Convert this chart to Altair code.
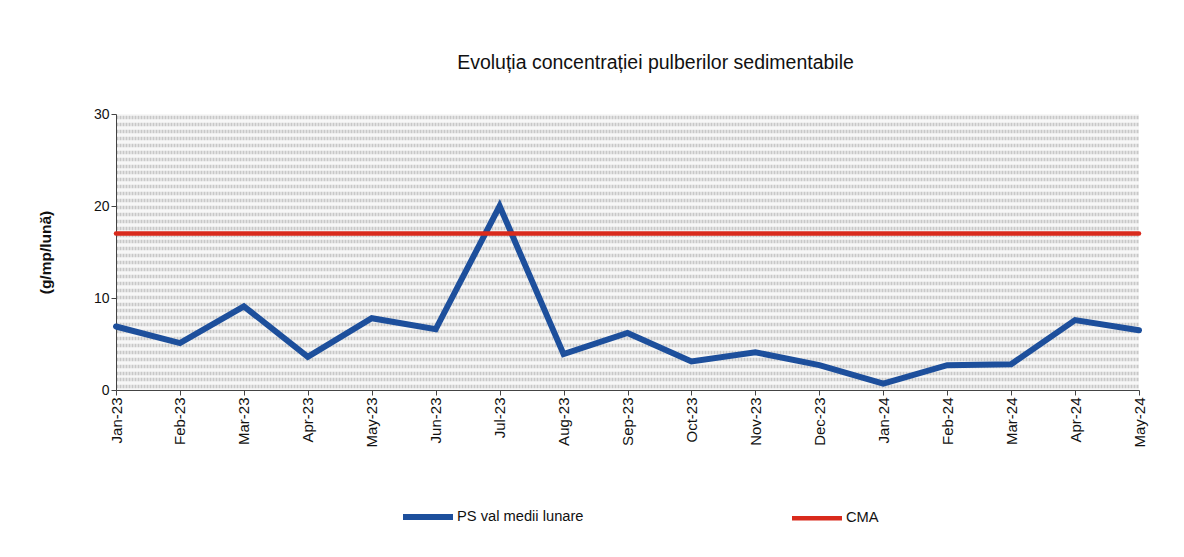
import altair as alt
import numpy as np
import pandas as pd

months = ["Jan-23", "Feb-23", "Mar-23", "Apr-23", "May-23", "Jun-23", "Jul-23", "Aug-23",
          "Sep-23", "Oct-23", "Nov-23", "Dec-23", "Jan-24", "Feb-24", "Mar-24", "Apr-24", "May-24"]
ps_values = [6.9, 5.1, 9.1, 3.6, 7.8, 6.6, 20.0, 3.9, 6.2, 3.1, 4.1, 2.7, 0.7, 2.7, 2.8, 7.6, 6.5]
cma_values = [17] * len(months)
series_names = ["PS val medii lunare", "CMA"]
series_colors = ["#1d4f9c", "#d92a1c"]
y_ticks = [0, 10, 20, 30]
stripe_levels = list(np.arange(0.4, 30, 0.75))

rows = []
for m, v in zip(months, ps_values):
    rows.append({"luna": m, "valoare": v, "serie": series_names[0]})
for m, v in zip(months, cma_values):
    rows.append({"luna": m, "valoare": v, "serie": series_names[1]})
df = pd.DataFrame(rows)

FONT = "Liberation Sans"

x_enc = alt.X("luna:N", sort=months, scale=alt.Scale(type="point", padding=0),
              axis=alt.Axis(title=None, labelAngle=-90, labelFontSize=15, labelColor="#111",
                            tickSize=5, tickColor="#444", domainColor="#444", labelPadding=2,
                            labelFont=FONT))

stripes = alt.Chart(df).mark_line(opacity=0).encode(
    x=x_enc,
    y=alt.Y("valoare:Q", scale=alt.Scale(domain=[0, 30], nice=False),
            axis=alt.Axis(values=stripe_levels, grid=True, gridColor="#c8c8c8", gridWidth=3.4,
                          gridDash=[2, 1], labels=False, ticks=False, domain=False, title=None,
                          orient="left")),
)

lines = alt.Chart(df).mark_line(strokeCap="round", strokeJoin="miter").encode(
    x=x_enc,
    y=alt.Y("valoare:Q", scale=alt.Scale(domain=[0, 30], nice=False),
            axis=alt.Axis(values=y_ticks, grid=False, title="(g/mp/lună)", titleFontSize=15.5,
                          titleFontWeight="bold", titleColor="#111", titlePadding=40,
                          labelFontSize=14, labelColor="#111", tickSize=5, tickColor="#444",
                          domainColor="#444", labelFont=FONT, titleFont=FONT, orient="left")),
    color=alt.Color("serie:N", scale=alt.Scale(domain=series_names, range=series_colors),
                    legend=alt.Legend(title=None, orient="none", legendX=284, legendY=375,
                                      direction="horizontal", columns=2, columnPadding=199,
                                      symbolType="stroke", symbolSize=2500, symbolStrokeWidth=5,
                                      labelFontSize=14.7, labelColor="#111", labelFont=FONT,
                                      labelOffset=1)),
    strokeWidth=alt.StrokeWidth("serie:N", scale=alt.Scale(domain=series_names, range=[6, 4.5]),
                                legend=None),
)

chart = alt.layer(stripes, lines).resolve_axis(y="independent").properties(
    width=1023, height=276,
    title=alt.TitleParams("Evoluția concentrației pulberilor sedimentabile", fontSize=19.5,
                          fontWeight="normal", color="#111", font=FONT, offset=34, dx=28),
    padding={"left": 30, "top": 44, "right": 20, "bottom": 10},
    background="#ffffff",
).configure_view(stroke=None, fill="#f7f7f7")

chart.save("out.html", embed_options={"renderer": "svg", "actions": False})
